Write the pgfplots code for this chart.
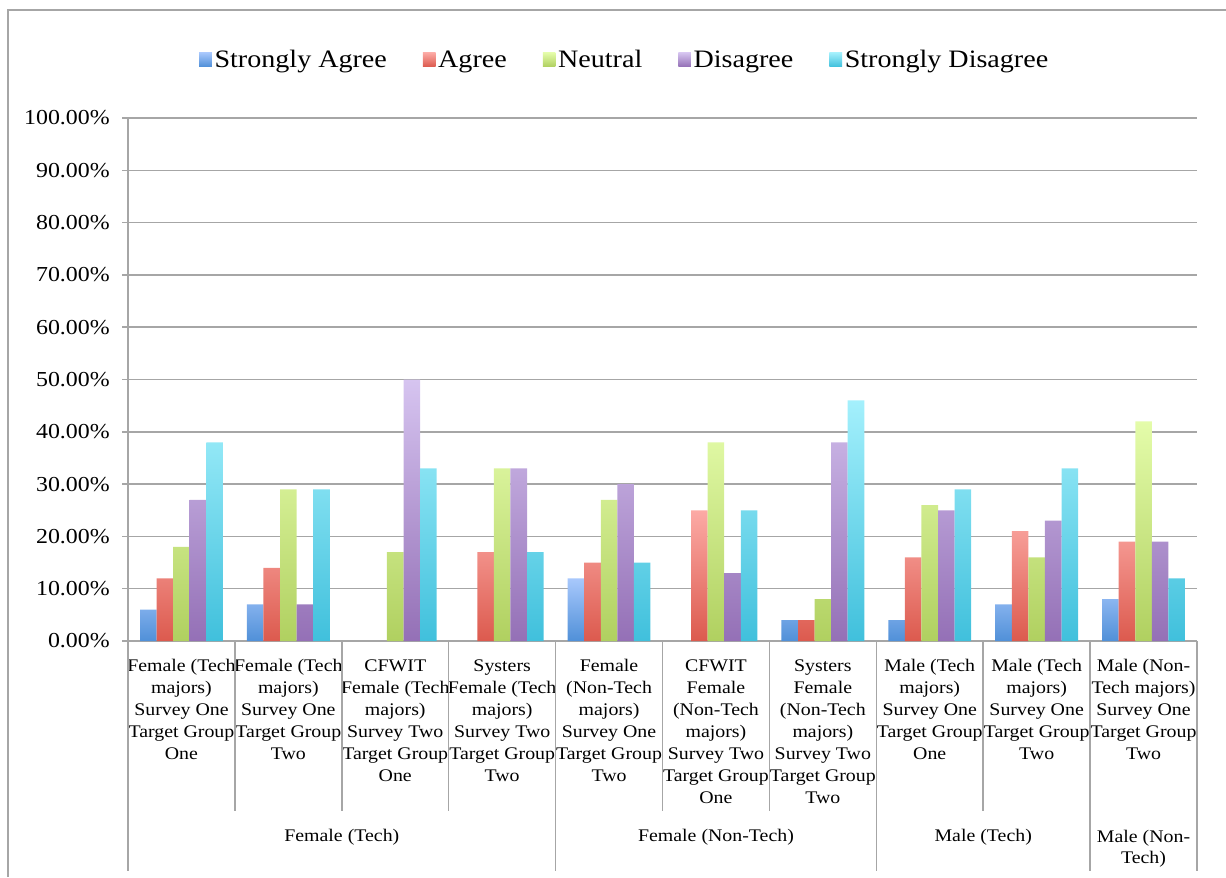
\documentclass[border=0pt]{standalone}
\usepackage{fontspec}
\setmainfont{Liberation Serif}[FakeStretch=1.12]
\usepackage{pgfplots}
\pgfplotsset{compat=1.18}
\definecolor{saT}{HTML}{A8C8FC}\definecolor{saB}{HTML}{5090D8}
\definecolor{aT}{HTML}{FCAAA5}\definecolor{aB}{HTML}{DC5A4E}
\definecolor{nT}{HTML}{E4FCAA}\definecolor{nB}{HTML}{B0D060}
\definecolor{dT}{HTML}{D6C4F0}\definecolor{dB}{HTML}{9470B6}
\definecolor{sdT}{HTML}{A4F0FC}\definecolor{sdB}{HTML}{40C0DC}
\definecolor{lin}{HTML}{A6A6A6}
\begin{document}
\begin{tikzpicture}
\useasboundingbox (0,0) rectangle (919.5pt,-657.75pt);
\draw[lin, line width=1.1pt] (6pt,-657.75pt) -- (6pt,-7.5pt) -- (919.5pt,-7.5pt);
\begin{axis}[
  at={(96pt,-480.75pt)}, anchor=south west,
  scale only axis, width=801.75pt, height=392.25pt,
  xmin=-0.5, xmax=9.5, ymin=0, ymax=100,
  ybar, bar width=0.155,
  axis lines*=left,
  axis line style={-, draw=lin, line width=1.1pt},
  ymajorgrids, grid style={lin, line width=1.1pt},
  tick align=outside, major tick length=4.5pt,
  ytick={0,10,...,100},
  yticklabels={0.00\%,10.00\%,20.00\%,30.00\%,40.00\%,50.00\%,60.00\%,70.00\%,80.00\%,90.00\%,100.00\%},
  yticklabel style={font=\fontsize{16}{19}\selectfont, inner sep=0pt, xshift=-9pt},
  major y tick style={lin, line width=1.1pt},
  xtick={0,...,9},
  major x tick style={draw=none},
  xticklabels={
    {Female (Tech\\majors)\\Survey One\\Target Group\\One},
    {Female (Tech\\majors)\\Survey One\\Target Group\\Two},
    {CFWIT\\Female (Tech\\majors)\\Survey Two\\Target Group\\One},
    {Systers\\Female (Tech\\majors)\\Survey Two\\Target Group\\Two},
    {Female\\(Non-Tech\\majors)\\Survey One\\Target Group\\Two},
    {CFWIT\\Female\\(Non-Tech\\majors)\\Survey Two\\Target Group\\One},
    {Systers\\Female\\(Non-Tech\\majors)\\Survey Two\\Target Group\\Two},
    {Male (Tech\\majors)\\Survey One\\Target Group\\One},
    {Male (Tech\\majors)\\Survey One\\Target Group\\Two},
    {Male (Non-\\Tech majors)\\Survey One\\Target Group\\Two}},
  xticklabel style={align=center, anchor=north, inner sep=0pt, yshift=-9.3pt,
    font=\fontsize{13.3}{16.5}\selectfont, execute at begin node=\strut},
  clip=false,
  legend columns=5,
  legend style={at={(0.465,1.111)}, anchor=center, draw=none, fill=none,
    font=\fontsize{18.8}{22}\selectfont,
    /tikz/every even column/.append style={column sep=25pt}},
  legend image code/.code={\draw[#1, draw=none] (0pt,-5pt) rectangle (9.5pt,5.5pt);},
]
\addplot[draw=none, top color=saT, bottom color=saB, bar shift=-0.31] coordinates
  {(0,6) (1,7) (4,12) (6,4) (7,4) (8,7) (9,8)};
\addplot[draw=none, top color=aT, bottom color=aB, bar shift=-0.155] coordinates
  {(0,12) (1,14) (3,17) (4,15) (5,25) (6,4) (7,16) (8,21) (9,19)};
\addplot[draw=none, top color=nT, bottom color=nB, bar shift=0] coordinates
  {(0,18) (1,29) (2,17) (3,33) (4,27) (5,38) (6,8) (7,26) (8,16) (9,42)};
\addplot[draw=none, top color=dT, bottom color=dB, bar shift=0.155] coordinates
  {(0,27) (1,7) (2,50) (3,33) (4,30) (5,13) (6,38) (7,25) (8,23) (9,19)};
\addplot[draw=none, top color=sdT, bottom color=sdB, bar shift=0.31] coordinates
  {(0,38) (1,29) (2,33) (3,17) (4,15) (5,25) (6,46) (7,29) (8,33) (9,12)};
\legend{Strongly Agree, Agree, Neutral, Disagree, Strongly Disagree}
% category separators
\draw[lin, line width=1.1pt] (axis cs:0.5,0) -- ++(0pt,-127.5pt);
\draw[lin, line width=1.1pt] (axis cs:1.5,0) -- ++(0pt,-127.5pt);
\draw[lin, line width=1.1pt] (axis cs:2.5,0) -- ++(0pt,-127.5pt);
\draw[lin, line width=1.1pt] (axis cs:4.5,0) -- ++(0pt,-127.5pt);
\draw[lin, line width=1.1pt] (axis cs:5.5,0) -- ++(0pt,-127.5pt);
\draw[lin, line width=1.1pt] (axis cs:7.5,0) -- ++(0pt,-127.5pt);
\draw[lin, line width=1.1pt] (axis cs:-0.5,0) -- ++(0pt,-172.5pt);
\draw[lin, line width=1.1pt] (axis cs:3.5,0) -- ++(0pt,-172.5pt);
\draw[lin, line width=1.1pt] (axis cs:6.5,0) -- ++(0pt,-172.5pt);
\draw[lin, line width=1.1pt] (axis cs:8.5,0) -- ++(0pt,-172.5pt);
\draw[lin, line width=1.1pt] (axis cs:9.5,0) -- ++(0pt,-172.5pt);
% group labels
\tikzset{grp/.style={anchor=north, align=center, inner sep=0pt, yshift=-139pt,
  font=\fontsize{13.3}{16}\selectfont, execute at begin node=\strut}}
\node[grp] at (axis cs:1.5,0) {Female (Tech)};
\node[grp] at (axis cs:5,0) {Female (Non-Tech)};
\node[grp] at (axis cs:7.5,0) {Male (Tech)};
\node[grp, yshift=-2.5pt] at (axis cs:9,0) {Male (Non-\\Tech)};
\end{axis}
\end{tikzpicture}
\end{document}
